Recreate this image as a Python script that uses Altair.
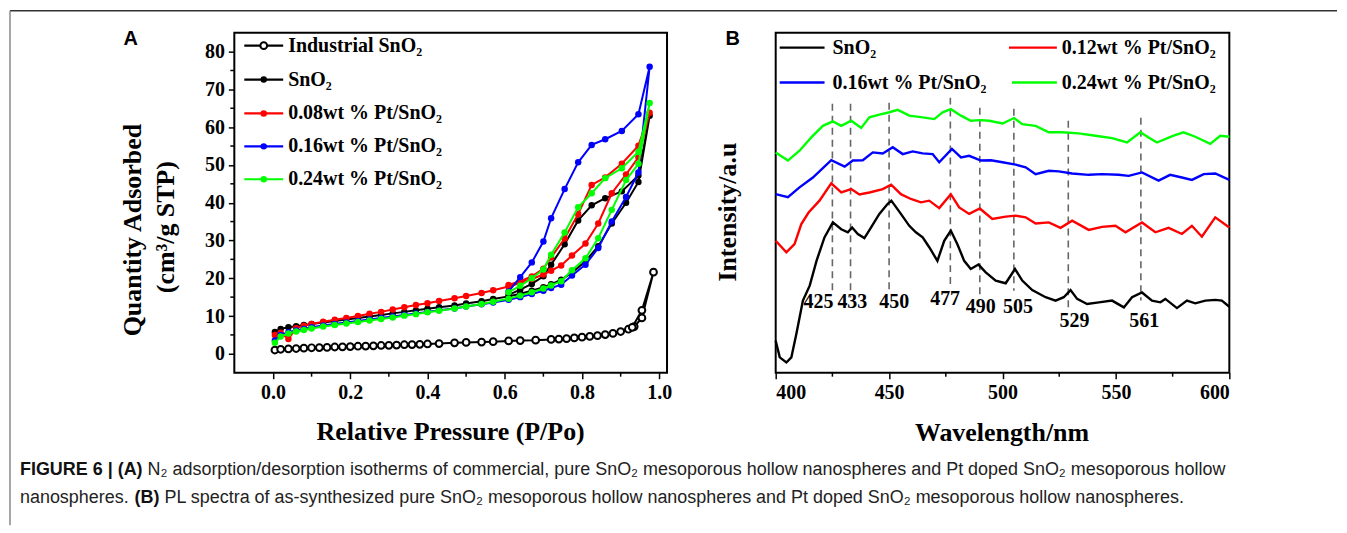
import altair as alt
import pandas as pd

# ---------------- Panel A: N2 isotherms ----------------
P_ADS = [0.005, 0.02, 0.04, 0.06, 0.08, 0.10, 0.13, 0.16, 0.19, 0.22, 0.25, 0.28, 0.31, 0.34,
         0.37, 0.40, 0.43, 0.47, 0.50, 0.54, 0.57, 0.61, 0.64, 0.67, 0.70, 0.72, 0.746, 0.774,
         0.809, 0.842, 0.877, 0.914, 0.946, 0.975]
P_DES = [0.946, 0.903, 0.86, 0.825, 0.79, 0.755, 0.72, 0.70, 0.67, 0.64, 0.61]

SNO2_ADS = [5.8, 6.6, 7.0, 7.3, 7.6, 7.9, 8.3, 8.7, 9.1, 9.5, 9.9, 10.3, 10.7, 11.1, 11.5, 11.9,
            12.3, 12.8, 13.3, 13.9, 14.5, 15.2, 15.9, 16.7, 17.6, 18.4, 19.6, 21.5, 24.5, 28.5,
            34.5, 40.0, 45.5, 63.0]
SNO2_DES = [47.2, 43.0, 41.2, 39.3, 35.3, 29.0, 23.6, 20.5, 18.5, 17.0, 15.6]

PT08_ADS = [5.0, 5.6, 3.9, 6.8, 7.4, 7.9, 8.5, 9.0, 9.5, 10.0, 10.6, 11.1, 11.7, 12.3, 12.9, 13.4,
            14.0, 14.7, 15.3, 16.1, 16.8, 17.8, 18.7, 19.8, 21.0, 22.0, 23.4, 26.0, 29.2, 34.5,
            42.5, 47.5, 52.0, 63.8]
PT08_DES = [55.1, 50.3, 46.7, 44.7, 37.0, 30.5, 25.5, 22.5, 20.5, 19.2, 18.2]

PT16_ADS = [3.5, 5.0, 5.7, 6.2, 6.6, 7.0, 7.5, 7.9, 8.3, 8.7, 9.1, 9.5, 9.9, 10.3, 10.7, 11.1,
            11.5, 12.0, 12.5, 13.1, 13.6, 14.3, 15.0, 15.8, 16.7, 17.4, 18.3, 20.7, 23.6, 28.0,
            35.0, 41.5, 48.0, 76.0]
PT16_DES = [63.4, 59.0, 56.8, 55.3, 50.7, 43.6, 35.9, 29.7, 24.2, 20.3, 16.5]

PT24_ADS = [2.9, 4.6, 5.4, 5.9, 6.3, 6.7, 7.2, 7.6, 8.0, 8.4, 8.8, 9.2, 9.6, 10.1, 10.5, 11.0,
            11.4, 12.0, 12.5, 13.2, 13.8, 14.6, 15.4, 16.3, 17.3, 18.1, 19.2, 22.1, 25.3, 30.6,
            38.1, 46.0, 50.3, 66.4]
PT24_DES = [53.5, 49.1, 46.5, 42.5, 38.8, 32.1, 26.2, 22.3, 20.0, 18.0, 16.3]

P_IND = [0.005, 0.02, 0.04, 0.06, 0.08, 0.10, 0.12, 0.14, 0.16, 0.18, 0.20, 0.22, 0.24, 0.26,
         0.28, 0.30, 0.32, 0.34, 0.36, 0.38, 0.40, 0.43, 0.47, 0.50, 0.54, 0.57, 0.61, 0.64,
         0.68, 0.72, 0.74, 0.76, 0.78, 0.80, 0.82, 0.84, 0.86, 0.88, 0.90, 0.92, 0.935, 0.955,
         0.985, 0.955, 0.93]
V_IND = [1.0, 1.2, 1.3, 1.4, 1.5, 1.6, 1.65, 1.7, 1.8, 1.85, 1.9, 2.0, 2.05, 2.1, 2.2, 2.25,
         2.3, 2.4, 2.45, 2.5, 2.6, 2.7, 2.9, 3.0, 3.1, 3.2, 3.4, 3.5, 3.6, 3.8, 3.9, 4.0, 4.2,
         4.4, 4.6, 4.8, 5.1, 5.4, 5.9, 6.5, 7.2, 9.5, 21.6, 11.5, 7.0]

A_LABELS = ["Industrial SnO₂", "SnO₂", "0.08wt % Pt/SnO₂", "0.16wt % Pt/SnO₂", "0.24wt % Pt/SnO₂"]
A_COLORS = ["#000000", "#000000", "#ff0000", "#0000ff", "#00ff00"]
A_TICKS_X = [0.0, 0.2, 0.4, 0.6, 0.8, 1.0]
A_MINOR_X = [0.1, 0.3, 0.5, 0.7, 0.9]
A_TICKS_Y = [0, 10, 20, 30, 40, 50, 60, 70, 80]
A_MINOR_Y = [5, 15, 25, 35, 45, 55, 65, 75]

# ---------------- Panel B: PL spectra ----------------
WL_K = [400, 401.8, 404.7, 406.9, 409.1, 412, 415, 418, 421.5, 425.2, 428.9, 431.8, 433.7, 436.2,
        439.1, 442, 445.7, 449.3, 451.0, 455.2, 458.9, 461.8, 464.8, 467.7, 471.3, 474.3, 477.2,
        480.1, 483.1, 486, 489.4, 492.6, 497, 501.4, 505.5, 508.7, 513.1, 519, 523.4, 527, 530,
        532.9, 537.3, 542.5, 548.3, 553.5, 557.1, 561.5, 565.9, 569.6, 571.8, 576.9, 581.3, 585,
        589.4, 593.8, 596.7, 600]
I_K = [9.4, 4.5, 3.0, 4.5, 11.4, 21.2, 25.6, 32.9, 39.8, 44.2, 42.2, 41.3, 42.7, 40.8, 39.6, 42.7,
       46.7, 49.6, 50.6, 46.7, 43.2, 41.3, 39.8, 36.9, 32.9, 38.8, 41.8, 37.8, 32.9, 30.5, 31.8,
       29.5, 27.1, 26.3, 30.5, 27.1, 24.3, 22.2, 21.2, 22.2, 24.3, 21.7, 20.2, 20.7, 21.2, 19.2,
       22.2, 23.6, 21.2, 20.7, 21.7, 19.0, 21.2, 20.4, 21.2, 21.4, 21.2, 19.4]

WL_R = [400, 404.7, 408.3, 411.3, 414.5, 419.3, 424.5, 428.9, 433.3, 436.9, 441.3, 447.2, 450.9,
        455.2, 459.6, 464, 467.7, 472.1, 477.2, 480.9, 485.3, 490, 495.5, 501.4, 505.8, 510.2,
        514.6, 520.4, 525.6, 530.7, 538, 543.9, 549.8, 554.2, 561.5, 567.4, 573.2, 579.1, 583.5,
        587.9, 593.8, 600]
I_R = [38.8, 35.4, 37.8, 43.7, 47.1, 50.6, 55.7, 53.0, 54.0, 52.4, 53.0, 54.0, 55.3, 52.5, 51.1,
       50.1, 50.6, 48.4, 52.5, 48.6, 46.7, 48.3, 45.2, 45.9, 46.2, 45.7, 43.9, 44.2, 42.6, 44.7,
       42.0, 42.9, 43.2, 41.3, 44.2, 41.3, 42.6, 40.8, 43.2, 40.0, 45.7, 42.7]

WL_B = [400, 405.4, 410.5, 416.4, 424.5, 430.4, 434, 438.4, 442.8, 447.2, 451.6, 456, 460.4, 464.8,
        469.2, 472.1, 477.7, 481.7, 485.3, 490.5, 494.9, 500, 505.8, 510.2, 514.6, 520.4, 524.8,
        530.7, 538, 543.9, 551.2, 555.6, 561.5, 568.8, 573.9, 579.1, 583.5, 588.7, 593.8, 600]
I_B = [52.5, 51.6, 54.5, 57.4, 62.5, 60.6, 62.4, 62.5, 64.8, 64.5, 66.3, 64.3, 65.1, 64.5, 64.3,
       61.9, 65.8, 63.3, 63.8, 62.4, 62.5, 61.9, 61.2, 60.4, 58.4, 59.4, 59.2, 58.6, 58.2, 58.4,
       58.2, 57.9, 58.9, 56.5, 58.2, 57.4, 56.7, 58.4, 58.6, 56.7]

WL_G = [400, 405.4, 410.5, 415.7, 420.8, 425.2, 428.9, 433.3, 437.7, 441.3, 445.7, 450.1, 453.8,
        458.9, 464.8, 469.9, 473.6, 477.2, 481.7, 486, 490.5, 494.1, 500, 505.1, 508.7, 514.6,
        520.4, 526.3, 533.6, 541, 548.3, 554.9, 560.8, 564.4, 568.1, 575.4, 579.8, 585, 591.6,
        596, 600]
I_G = [64.8, 62.4, 65.3, 69.2, 72.6, 73.9, 72.6, 74.1, 72.0, 75.1, 75.9, 76.6, 77.3, 75.6, 75.1,
       74.6, 76.6, 77.5, 75.6, 74.1, 74.3, 74.1, 73.3, 74.9, 73.1, 72.6, 70.7, 70.7, 70.4, 69.7,
       69.0, 67.7, 70.7, 69.2, 67.7, 69.7, 70.7, 69.4, 67.3, 69.7, 69.4]

B_LABELS = ["SnO₂", "0.12wt % Pt/SnO₂", "0.16wt % Pt/SnO₂", "0.24wt % Pt/SnO₂"]
B_COLORS = ["#000000", "#ff0000", "#0000ff", "#00ff00"]

PEAKS = [425, 433, 450, 477, 490, 505, 529, 561]
PEAK_TOP = [79.1, 79.1, 79.4, 80.9, 77.9, 77.6, 74.1, 75.0]
PEAK_BOTTOM = [23.2, 22.1, 24.1, 24.7, 22.1, 24.1, 18.2, 21.2]
PEAK_TEXT = ["425", "433", "450", "477", "490", "505", "529", "561"]
PEAK_LABEL_X = [418.9, 433.8, 452.3, 474.7, 490.4, 506.8, 531.7, 562.5]
PEAK_LABEL_Y = [20.7, 20.7, 20.7, 21.8, 19.4, 19.4, 15.1, 15.1]
B_TICKS_X = [400, 450, 500, 550, 600]
B_MINOR_X = [425, 475, 525, 575]

SERIF = "Liberation Serif"
SANS = "Liberation Sans"
WA, HA = 434, 341
WB, HB = 455, 341
ONE = pd.DataFrame({"d": [0]})


def txt(text, x, y, size, font=SERIF, weight="bold", color="black", align="left",
        baseline="middle", angle=0):
    return alt.Chart(ONE).mark_text(
        text=text, font=font, fontSize=size, fontWeight=weight, color=color,
        align=align, baseline=baseline, angle=angle
    ).encode(x=alt.value(x), y=alt.value(y))


def hrule(x1, x2, y, color, width=2.0):
    return alt.Chart(ONE).mark_rule(color=color, strokeWidth=width).encode(
        x=alt.value(x1), x2=alt.value(x2), y=alt.value(y))


# ---------- Panel A chart ----------
scaleAx = alt.Scale(domain=[-0.1, 1.02], nice=False, zero=False)
scaleAy = alt.Scale(domain=[-5, 85], nice=False, zero=False)
axAx = alt.Axis(values=A_TICKS_X, format=".1f", title=None)
axAy = alt.Axis(values=A_TICKS_Y, format="d", title=None)
xA = alt.X("P:Q", scale=scaleAx, axis=axAx)
yA = alt.Y("V:Q", scale=scaleAy, axis=axAy)


def iso(p_ads, v_ads, p_des, v_des):
    p = list(p_ads) + list(p_des)
    v = list(v_ads) + list(v_des)
    return pd.DataFrame({"P": p, "V": v, "idx": list(range(len(p)))})


ind_df = pd.DataFrame({"P": P_IND, "V": V_IND, "idx": list(range(len(P_IND)))})
a_layers = []
a_layers.append(alt.Chart(ind_df).mark_line(color="black", strokeWidth=2).encode(
    x=xA, y=yA, order="idx:Q"))
a_layers.append(alt.Chart(ind_df).mark_point(shape="circle", filled=False, fill="white",
                                              stroke="black", strokeWidth=2, size=46,
                                              opacity=1).encode(x=xA, y=yA))
series_a = [(SNO2_ADS, SNO2_DES, A_COLORS[1]), (PT08_ADS, PT08_DES, A_COLORS[2]),
            (PT16_ADS, PT16_DES, A_COLORS[3]), (PT24_ADS, PT24_DES, A_COLORS[4])]
for ads, des, col in series_a:
    d = iso(P_ADS, ads, P_DES, des)
    a_layers.append(alt.Chart(d).mark_line(color=col, strokeWidth=2).encode(
        x=xA, y=yA, order="idx:Q"))
    a_layers.append(alt.Chart(d).mark_circle(color=col, size=42, opacity=1).encode(x=xA, y=yA))

# minor ticks
a_layers.append(alt.Chart(pd.DataFrame({"P": A_MINOR_X})).mark_rule(
    color="black", strokeWidth=1.5).encode(x=xA, y=alt.value(HA), y2=alt.value(HA + 4)))
a_layers.append(alt.Chart(pd.DataFrame({"V": A_MINOR_Y})).mark_rule(
    color="black", strokeWidth=1.5).encode(y=yA, x=alt.value(0), x2=alt.value(-4)))

# legend A
rowsA = [13, 47, 81, 114, 147]
for i, (lab, col) in enumerate(zip(A_LABELS, A_COLORS)):
    yy = rowsA[i]
    a_layers.append(hrule(10, 49, yy, col, 2.2))
    if i == 0:
        a_layers.append(alt.Chart(ONE).mark_point(shape="circle", filled=False, fill="white",
                                                  stroke="black", strokeWidth=2, size=46,
                                                  opacity=1).encode(x=alt.value(29.5), y=alt.value(yy)))
    else:
        a_layers.append(alt.Chart(ONE).mark_circle(color=col, size=42, opacity=1).encode(
            x=alt.value(29.5), y=alt.value(yy)))
    a_layers.append(txt(lab, 54, yy, 20))

# titles A
a_layers.append(txt("A", -104, 6, 20, font=SANS, align="center"))
a_layers.append(txt("Quantity Adsorbed", -102, 198, 26, align="center", angle=270))
a_layers.append(txt("(cm³/g STP)", -69, 195, 26, align="center", angle=270))
a_layers.append(txt("Relative Pressure (P/Po)", WA / 2, 401, 26, align="center"))

# figure frame (top and left edge) and caption
a_layers.append(hrule(-225, 1106, -22, "#333333", 1.5))
a_layers.append(alt.Chart(ONE).mark_rule(color="#888888", strokeWidth=1.5).encode(
    x=alt.value(-225), y=alt.value(-22), y2=alt.value(494)))
CAP = 18
a_layers.append(txt("FIGURE 6 | (A)", -215, 439, CAP, font=SANS, color="#111111"))
a_layers.append(txt("N₂ adsorption/desorption isotherms of commercial, pure SnO₂ mesoporous hollow "
                    "nanospheres and Pt doped SnO₂ mesoporous hollow",
                    -87, 439, CAP, font=SANS, weight="normal", color="#222222"))
a_layers.append(txt("nanospheres.", -215, 467, CAP, font=SANS, weight="normal", color="#222222"))
a_layers.append(txt("(B)", -100, 467, CAP, font=SANS, color="#111111"))
a_layers.append(txt("PL spectra of as-synthesized pure SnO₂ mesoporous hollow nanospheres and Pt "
                    "doped SnO₂ mesoporous hollow nanospheres.",
                    -70, 467, CAP, font=SANS, weight="normal", color="#222222"))

chartA = alt.layer(*a_layers).properties(width=WA, height=HA)

# ---------- Panel B chart ----------
scaleBx = alt.Scale(domain=[400, 600], nice=False, zero=False)
scaleBy = alt.Scale(domain=[0, 100], nice=False, zero=False)
xB = alt.X("wl:Q", scale=scaleBx, axis=alt.Axis(values=B_TICKS_X, format="d", title=None))
yB = alt.Y("I:Q", scale=scaleBy, axis=None)

b_layers = []
dash_df = pd.DataFrame({"wl": PEAKS, "I": PEAK_TOP, "I2": PEAK_BOTTOM})
b_layers.append(alt.Chart(dash_df).mark_rule(color="#666666", strokeWidth=1.6,
                                             strokeDash=[7, 5]).encode(x=xB, y=yB, y2="I2:Q"))
for wl, ii, col in [(WL_K, I_K, B_COLORS[0]), (WL_R, I_R, B_COLORS[1]),
                    (WL_B, I_B, B_COLORS[2]), (WL_G, I_G, B_COLORS[3])]:
    d = pd.DataFrame({"wl": wl, "I": ii})
    b_layers.append(alt.Chart(d).mark_line(color=col, strokeWidth=2.4).encode(x=xB, y=yB))

lab_df = pd.DataFrame({"wl": PEAK_LABEL_X, "I": PEAK_LABEL_Y, "t": PEAK_TEXT})
b_layers.append(alt.Chart(lab_df).mark_text(font=SERIF, fontSize=20, fontWeight="bold",
                                            color="black", baseline="middle").encode(
    x=xB, y=yB, text="t:N"))
b_layers.append(alt.Chart(pd.DataFrame({"wl": B_MINOR_X})).mark_rule(
    color="black", strokeWidth=1.5).encode(x=xB, y=alt.value(HB), y2=alt.value(HB + 4)))

# legend B
legB = [(4, 49, 57, 15), (234, 282, 287, 15), (4, 49, 57, 50), (237, 282, 287, 50)]
for (x1, x2, xt, yy), lab, col in zip(legB, B_LABELS, B_COLORS):
    b_layers.append(hrule(x1, x2, yy, col, 2.4))
    b_layers.append(txt(lab, xt, yy, 20))

b_layers.append(txt("B", -43, 6, 20, font=SANS, align="center"))
b_layers.append(txt("Intensity/a.u", -48, 180, 26, align="center", angle=270))
b_layers.append(txt("Wavelength/nm", 227, 402, 26, align="center"))

chartB = alt.layer(*b_layers).properties(width=WB, height=HB)

chart = alt.hconcat(chartA, chartB, spacing=109, bounds="flush").properties(
    padding=0
).configure_view(
    stroke="black", strokeWidth=2
).configure_axis(
    domain=False, grid=False, tickColor="black", tickWidth=1.5, tickSize=6,
    labelFont=SERIF, labelFontWeight="bold", labelFontSize=20, labelColor="black",
    labelPadding=4
)

chart.save("out.html", embed_options={"renderer": "svg", "actions": False})
